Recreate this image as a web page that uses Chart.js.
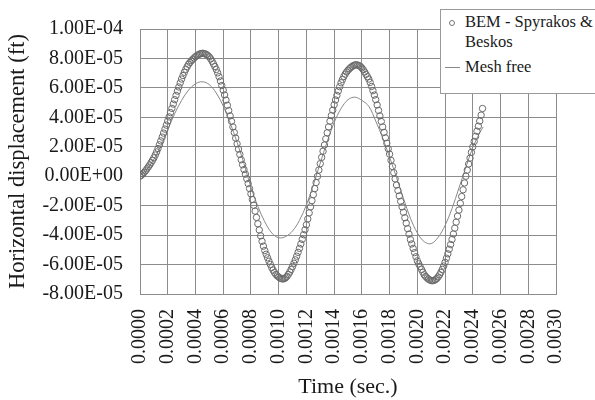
<!DOCTYPE html>
<html>
<head>
<meta charset="utf-8">
<script src="https://cdn.jsdelivr.net/npm/chart.js@4.4.1/dist/chart.umd.min.js"></script>
<style>
  body { margin: 0; background: #fff; }
  #wrap { position: relative; width: 595px; height: 400px; overflow: hidden; }
  #legend {
    position: absolute; left: 440px; top: 9px; width: 170px; height: 83px;
    background: #fff; border: 1px solid #9a9a9a;
    font-family: 'Liberation Serif', 'Times New Roman', serif; font-size: 16.5px; color: #1a1a1a;
  }
  #legend .row { position: absolute; left: 24px; line-height: 20px; white-space: nowrap; }
  #legend .dot { position: absolute; left: 8px; top: 10px; width: 4px; height: 4px; border: 1px solid #777; border-radius: 50%; }
  #legend .dash { position: absolute; left: 4px; top: 57px; width: 15px; border-top: 1px solid #888; }
</style>
</head>
<body>
<div id="wrap">
  <canvas id="chart" width="595" height="400"></canvas>
  <div id="legend">
    <span class="dot"></span>
    <div class="row" style="top:2px">BEM - Spyrakos &amp;<br>Beskos</div>
    <span class="dash"></span>
    <div class="row" style="top:47px">Mesh free</div>
  </div>
</div>
<script>
// BEM - Spyrakos & Beskos, one sample every 0.00001 s starting at t = 0 (values in 1e-5 ft)
const BEM_STEP = 0.00001;
const BEM_Y = [
  0.00, 0.07, 0.16, 0.26, 0.37, 0.50, 0.63, 0.77, 0.92, 1.08,
  1.25, 1.44, 1.65, 1.88, 2.13, 2.40, 2.66, 2.93, 3.20, 3.47,
  3.75, 4.03, 4.32, 4.61, 4.90, 5.20, 5.49, 5.78, 6.06, 6.34,
  6.60, 6.84, 7.06, 7.26, 7.44, 7.60, 7.73, 7.84, 7.94, 8.03,
  8.12, 8.19, 8.25, 8.30, 8.33, 8.35, 8.34, 8.31, 8.26, 8.19,
  8.10, 7.97, 7.81, 7.63, 7.45, 7.25, 7.02, 6.76, 6.47, 6.16,
  5.85, 5.52, 5.17, 4.82, 4.46, 4.10, 3.73, 3.35, 2.97, 2.59,
  2.20, 1.84, 1.48, 1.12, 0.78, 0.45, 0.14, -0.17, -0.50, -0.84,
  -1.20, -1.58, -1.97, -2.37, -2.80, -3.23, -3.65, -4.05, -4.42, -4.75,
  -5.05, -5.30, -5.54, -5.77, -5.99, -6.20, -6.38, -6.54, -6.67, -6.77,
  -6.85, -6.92, -6.96, -6.98, -6.96, -6.90, -6.80, -6.67, -6.51, -6.33,
  -6.13, -5.91, -5.68, -5.43, -5.17, -4.90, -4.60, -4.29, -3.97, -3.64,
  -3.30, -2.90, -2.49, -2.08, -1.66, -1.25, -0.84, -0.43, -0.01, 0.42,
  0.85, 1.28, 1.70, 2.12, 2.54, 2.95, 3.35, 3.74, 4.12, 4.49,
  4.85, 5.18, 5.49, 5.79, 6.08, 6.35, 6.57, 6.77, 6.94, 7.08,
  7.20, 7.30, 7.39, 7.46, 7.52, 7.56, 7.57, 7.55, 7.51, 7.45,
  7.35, 7.23, 7.08, 6.92, 6.76, 6.60, 6.37, 6.10, 5.81, 5.51,
  5.20, 4.84, 4.47, 4.10, 3.72, 3.35, 2.98, 2.61, 2.24, 1.87,
  1.50, 1.08, 0.66, 0.24, -0.18, -0.60, -0.97, -1.34, -1.71, -2.08,
  -2.45, -2.82, -3.19, -3.56, -3.93, -4.30, -4.60, -4.90, -5.19, -5.47,
  -5.75, -5.95, -6.14, -6.33, -6.52, -6.70, -6.81, -6.91, -6.99, -7.05,
  -7.09, -7.10, -7.08, -7.03, -6.95, -6.84, -6.70, -6.53, -6.33, -6.10,
  -5.85, -5.57, -5.27, -4.96, -4.64, -4.30, -3.92, -3.53, -3.12, -2.71,
  -2.30, -1.84, -1.38, -0.92, -0.46, 0.00, 0.42, 0.83, 1.23, 1.62,
  2.00, 2.36, 2.71, 3.06, 3.40, 3.75, 4.15, 4.60
];

// Mesh free (time in s, values in 1e-5 ft)
const MESH_T = [
  0, 0.00005, 0.0001, 0.00015, 0.0002, 0.00025, 0.0003, 0.00035, 0.0004, 0.00045,
  0.0005, 0.00055, 0.0006, 0.00065, 0.0007, 0.00075, 0.0008, 0.00085, 0.0009, 0.00095,
  0.001, 0.00105, 0.0011, 0.00115, 0.0012, 0.00125, 0.0013, 0.00135, 0.0014, 0.00145,
  0.0015, 0.00155, 0.0016, 0.00165, 0.0017, 0.00175, 0.0018, 0.00185, 0.0019, 0.00195,
  0.002, 0.00205, 0.0021, 0.00215, 0.0022, 0.00225, 0.0023, 0.00235, 0.0024, 0.00245, 0.002475
];
const MESH_Y = [
  0.00, 0.45, 1.15, 2.05, 3.15, 4.25, 5.15, 5.85, 6.28, 6.42,
  6.22, 5.65, 4.78, 3.62, 2.30, 0.85, -0.75, -2.05, -3.10, -3.85,
  -4.18, -4.10, -3.72, -3.00, -1.95, -0.60, 0.90, 2.35, 3.65, 4.60,
  5.20, 5.37, 5.15, 4.75, 3.75, 2.60, 1.30, -0.10, -1.50, -2.85,
  -3.85, -4.45, -4.58, -4.15, -3.35, -2.20, -0.80, 0.60, 1.95, 2.95, 3.35
];
const UNIT = 1e-5;

const X_TICKS = [0, 0.0002, 0.0004, 0.0006, 0.0008, 0.001, 0.0012, 0.0014, 0.0016, 0.0018, 0.002, 0.0022, 0.0024, 0.0026, 0.0028, 0.003];
const X_LABELS = ['0.0000', '0.0002', '0.0004', '0.0006', '0.0008', '0.0010', '0.0012', '0.0014', '0.0016', '0.0018', '0.0020', '0.0022', '0.0024', '0.0026', '0.0028', '0.0030'];
const Y_TICKS = [-8e-5, -6e-5, -4e-5, -2e-5, 0, 2e-5, 4e-5, 6e-5, 8e-5, 1e-4];
const Y_LABELS = ['-8.00E-05', '-6.00E-05', '-4.00E-05', '-2.00E-05', '0.00E+00', '2.00E-05', '4.00E-05', '6.00E-05', '8.00E-05', '1.00E-04'];

const bemPoints = BEM_Y.map((v, i) => ({ x: i * BEM_STEP, y: v * UNIT }));
const meshPoints = MESH_Y.map((v, i) => ({ x: MESH_T[i], y: v * UNIT }));

const FONT = "'Liberation Serif', 'Times New Roman', serif";
const GRID = '#8c8c8c';
const TEXT = '#1a1a1a';

new Chart(document.getElementById('chart'), {
  type: 'scatter',
  data: {
    datasets: [
      {
        label: 'BEM - Spyrakos & Beskos',
        data: bemPoints,
        showLine: false,
        pointStyle: 'circle',
        pointRadius: 3.2,
        pointBorderWidth: 1,
        borderColor: '#6a6a6a',
        backgroundColor: 'rgba(0,0,0,0)'
      },
      {
        label: 'Mesh free',
        data: meshPoints,
        showLine: true,
        pointRadius: 0,
        borderColor: '#888',
        borderWidth: 1,
        tension: 0.35
      }
    ]
  },
  options: {
    responsive: false,
    animation: false,
    devicePixelRatio: 1,
    layout: { padding: { top: 26, right: 17, bottom: 0, left: 0 } },
    plugins: { legend: { display: false }, tooltip: { enabled: false } },
    scales: {
      x: {
        type: 'linear',
        min: 0,
        max: 0.003,
        afterBuildTicks: s => { s.ticks = X_TICKS.map(v => ({ value: v })); },
        afterFit: s => { s.height = 106; },
        grid: { color: GRID, drawTicks: false },
        border: { color: GRID },
        ticks: {
          autoSkip: false, minRotation: 90, maxRotation: 90, padding: 15,
          color: TEXT, font: { family: FONT, size: 20 },
          callback: (v, i) => X_LABELS[i]
        },
        title: {
          display: true, text: 'Time (sec.)', color: TEXT,
          font: { family: FONT, size: 22 }, padding: { top: 0, bottom: 0 }
        }
      },
      y: {
        min: -8e-5,
        max: 1e-4,
        afterBuildTicks: s => { s.ticks = Y_TICKS.map(v => ({ value: v })); },
        afterFit: s => { s.width = 140; },
        grid: { color: GRID, drawTicks: false },
        border: { color: GRID },
        ticks: {
          padding: 17, color: TEXT, font: { family: FONT, size: 20 },
          callback: (v, i) => Y_LABELS[i]
        },
        title: {
          display: true, text: 'Horizontal displacement (ft)', color: TEXT,
          font: { family: FONT, size: 22.5 }, padding: { top: 5, bottom: 0 }
        }
      }
    }
  }
});
</script>
</body>
</html>
